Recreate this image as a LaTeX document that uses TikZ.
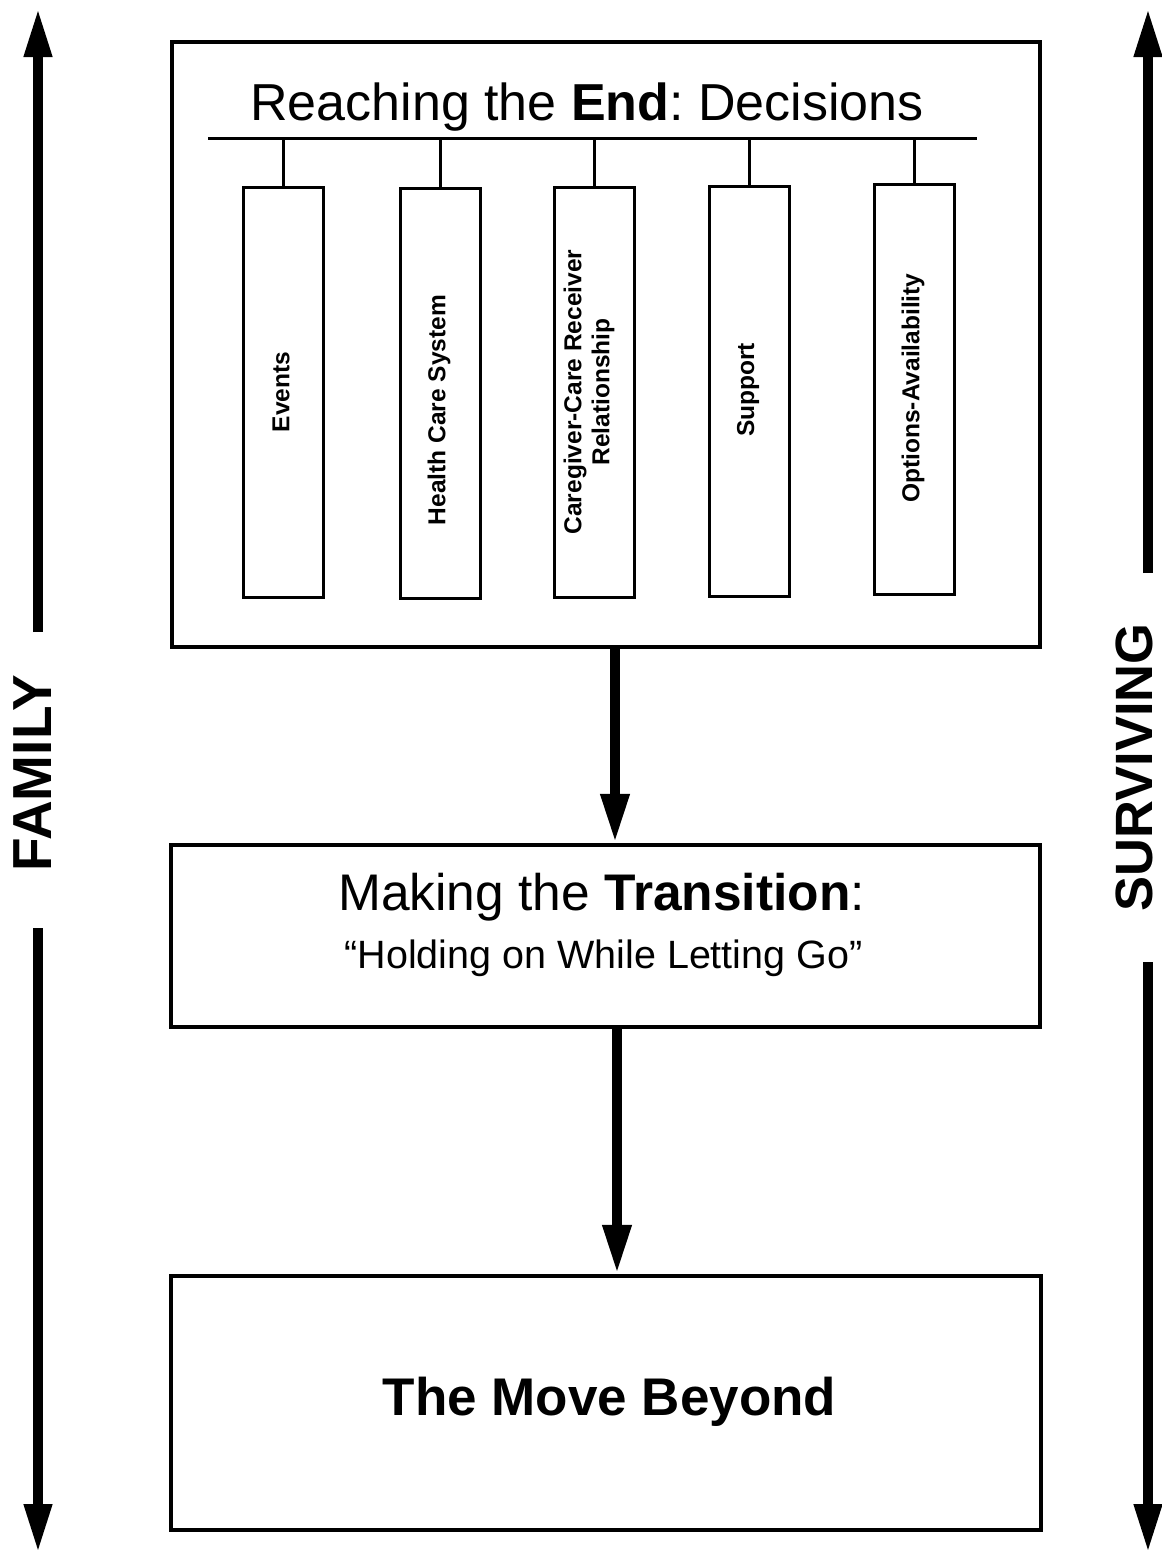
\documentclass[tikz,border=0pt]{standalone}
\usepackage{fontspec}
\setmainfont{Liberation Sans}
\usetikzlibrary{arrows.meta}
\frenchspacing
\begin{document}
\begin{tikzpicture}[x=1pt,y=-1pt,
  bigbox/.style={draw, line width=4.5pt, inner sep=0pt},
  smallbox/.style={draw, line width=3pt, minimum width=80pt, minimum height=410pt, inner sep=0pt},
  vlabel/.style={rotate=90, font=\fontsize{24.5}{28}\selectfont\bfseries, align=center, inner sep=0pt},
  sidelabel/.style={rotate=90, inner sep=0pt},
  connline/.style={line width=3pt},
  flowarrow/.style={line width=10pt, -{Triangle[length=49pt,width=27pt]}},
  sidearrow/.style={line width=10pt, -{Triangle[length=49pt,width=26pt]}}
]
\useasboundingbox (0,0) rectangle (1162,1556);

% main boxes
\node[bigbox, minimum width=868pt, minimum height=605pt] (top) at (606,344.5) {};
\node[bigbox, minimum width=869pt, minimum height=182pt] (trans) at (605.5,936) {};
\node[bigbox, minimum width=870pt, minimum height=254pt] (move) at (606,1403) {};

% title of top box
\node[anchor=base, inner sep=0pt, font=\fontsize{52}{60}\selectfont] (title) at (587,120) {Reaching the \textbf{End}: Decisions};
\coordinate (hl) at (208,138);
\coordinate (hr) at (977,138);
\draw[connline] (hl) -- (hr);

% small boxes
\node[smallbox] (b1) at (283,392) {};
\node[smallbox] (b2) at (440.5,393) {};
\node[smallbox] (b3) at (594,392) {};
\node[smallbox] (b4) at (749.5,391) {};
\node[smallbox] (b5) at (914,389) {};
\foreach \b in {b1,b2,b3,b4,b5}{
  \draw[connline] (\b.north) -- (\b.north |- hl);
}

\node[vlabel] (l1) at (281,392) {Events};
\node[vlabel] (l2) at (439,410) {Health Care System};
\node[vlabel] (l3) at (589,392) {Caregiver-Care Receiver\\Relationship};
\node[vlabel] (l4) at (748,390) {Support};
\node[vlabel] (l5) at (913,388) {Options-Availability};

% transition texts
\node[anchor=base, inner sep=0pt, font=\fontsize{51.5}{60}\selectfont] (t1) at (601.5,910) {Making the \textbf{Transition}:};
\node[anchor=base, inner sep=0pt, font=\fontsize{39.5}{46}\selectfont] (t2) at (603.5,968) {“Holding on While Letting Go”};

% move beyond
\node[anchor=base, inner sep=0pt, font=\fontsize{53}{60}\selectfont\bfseries] (m1) at (609.5,1415) {The Move Beyond};

% flow arrows
\coordinate (ax1) at (615,0);
\coordinate (ax2) at (617,0);
\draw[flowarrow] (top.south -| ax1) -- (trans.north -| ax1);
\draw[flowarrow] (trans.south -| ax2) -- (move.north -| ax2);

% side labels
\node[sidelabel, font=\fontsize{55}{60}\selectfont\bfseries] (fam) at (33,773) {FAMILY};
\node[sidelabel, font=\fontsize{52.5}{60}\selectfont\bfseries] (surv) at (1134,767.5) {SURVIVING};

% side arrows
\coordinate (Ltop) at (38,8);
\coordinate (Lbot) at (38,1553);
\coordinate (L1) at (38,632);
\coordinate (L2) at (38,928);
\draw[sidearrow] (L1) -- (Ltop);
\draw[sidearrow] (L2) -- (Lbot);
\coordinate (Rtop) at (1148,8);
\coordinate (Rbot) at (1148,1553);
\coordinate (R1) at (1148,573);
\coordinate (R2) at (1148,962);
\draw[sidearrow] (R1) -- (Rtop);
\draw[sidearrow] (R2) -- (Rbot);
\end{tikzpicture}
\end{document}
